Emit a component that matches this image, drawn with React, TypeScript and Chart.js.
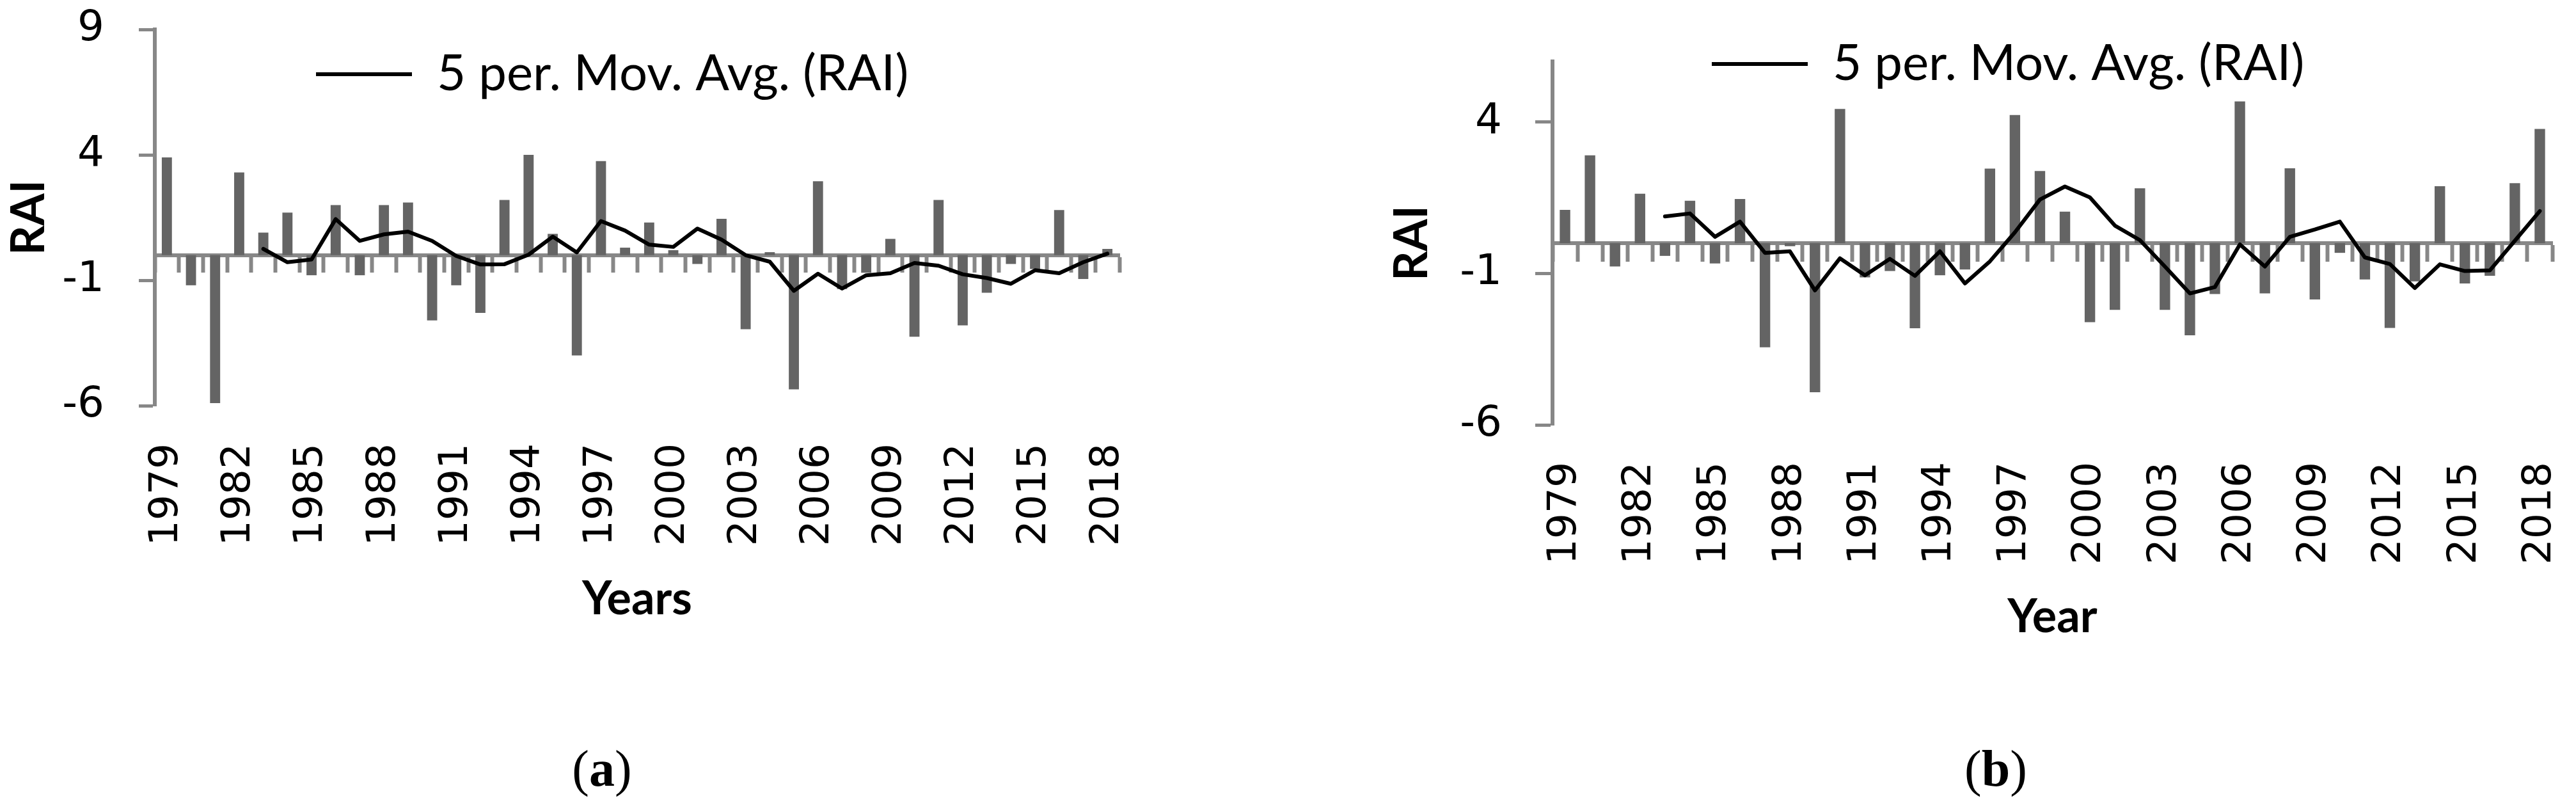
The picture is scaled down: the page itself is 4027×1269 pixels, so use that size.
import React, { useEffect, useRef } from 'react';
import { Chart, registerables } from 'chart.js';

Chart.register(...registerables);

// ---------- data ----------
const years = [
  '1979', '1980', '1981', '1982', '1983', '1984', '1985', '1986', '1987', '1988',
  '1989', '1990', '1991', '1992', '1993', '1994', '1995', '1996', '1997', '1998',
  '1999', '2000', '2001', '2002', '2003', '2004', '2005', '2006', '2007', '2008',
  '2009', '2010', '2011', '2012', '2013', '2014', '2015', '2016', '2017', '2018',
];
const shownYears = ['1979', '1982', '1985', '1988', '1991', '1994', '1997', '2000', '2003', '2006', '2009', '2012', '2015', '2018'];

const raiA = [
  3.9, -1.2, -5.9, 3.3, 0.9, 1.7, -0.8, 2.0, -0.8, 2.0,
  2.1, -2.6, -1.2, -2.3, 2.2, 4.0, 0.85, -4.0, 3.75, 0.3,
  1.3, 0.2, -0.35, 1.45, -2.95, 0.12, -5.35, 2.95, -1.35, -0.7,
  0.65, -3.25, 2.2, -2.8, -1.5, -0.35, -0.55, 1.8, -0.95, 0.25,
];
const maA = [
  null, null, null, null, 0.25, -0.28, -0.17, 1.44, 0.57, 0.83,
  0.94, 0.57, -0.03, -0.37, -0.36, 0.02, 0.74, 0.11, 1.36, 0.98,
  0.42, 0.33, 1.06, 0.62, 0.0, -0.26, -1.42, -0.74, -1.33, -0.8,
  -0.72, -0.31, -0.42, -0.76, -0.91, -1.14, -0.6, -0.72, -0.28, 0.06,
];
const raiB = [
  1.1, 2.9, -0.77, 1.63, -0.42, 1.4, -0.67, 1.46, -3.44, -0.1,
  -4.92, 4.43, -1.13, -0.92, -2.81, -1.06, -0.87, 2.46, 4.23, 2.38,
  1.04, -2.61, -2.2, 1.81, -2.2, -3.04, -1.68, 4.68, -1.66, 2.47,
  -1.86, -0.32, -1.2, -2.8, -1.26, 1.88, -1.33, -1.08, 1.98, 3.77,
];
const maB = [
  null, null, null, null, 0.88, 0.98, 0.21, 0.71, -0.32, -0.27,
  -1.56, -0.5, -1.06, -0.52, -1.08, -0.27, -1.33, -0.6, 0.36, 1.44,
  1.87, 1.51, 0.58, 0.1, -0.77, -1.66, -1.45, -0.04, -0.77, 0.21,
  0.45, 0.71, -0.47, -0.69, -1.48, -0.7, -0.92, -0.9, 0.08, 1.06,
];
const yTicksA = [-6, -1, 4, 9];
const yTicksB = [-6, -1, 4];
const legendText = '5 per. Mov. Avg. (RAI)';

// ---------- styles ----------
const BAR = '#646464';
const AXIS = '#878787';
const NARROW = "Lato, 'Liberation Sans', sans-serif";
const TICKFONT = { family: "'DejaVu Sans', sans-serif", size: 66 };
const XTICKFONT = { family: "'DejaVu Sans', sans-serif", size: 63 };
const LEGEND_SIZE = 78;
const TITLE_SIZE = 72;

type PanelProps = {
  left: number;
  width: number;
  height: number;
  padding: { top: number; right: number; bottom: number; left: number };
  rai: number[];
  ma: (number | null)[];
  yMin: number;
  yMax: number;
  yTicks: number[];
  yWidth: number;
  yTitlePadTop: number;
  yTickPad: number;
  yTickLen: number;
  xHeight: number;
  xTickPad: number;
  xTickLen: number;
  xTitle: string;
  legendX: number;
  legendY: number;
};

function legendAt(x: number, yCenter: number) {
  return {
    id: 'legendAt',
    afterLayout(chart: any) {
      const lg = chart.legend;
      if (!lg) return;
      const w = lg.width;
      const h = lg.height;
      lg.left = x;
      lg.right = x + w;
      lg.top = yCenter - LEGEND_SIZE / 2;
      lg.bottom = lg.top + h;
    },
  };
}

function Panel(p: PanelProps) {
  const ref = useRef<HTMLCanvasElement | null>(null);
  useEffect(() => {
    if (!ref.current) return;
    const chart = new Chart(ref.current, {
      type: 'bar',
      data: {
        labels: years,
        datasets: [
          {
            type: 'bar',
            label: 'RAI',
            data: p.rai,
            backgroundColor: BAR,
            borderWidth: 0,
            barPercentage: 0.42,
            categoryPercentage: 1,
            xAxisID: 'x',
            yAxisID: 'y',
            order: 1,
          } as any,
          {
            type: 'line',
            label: legendText,
            data: p.ma,
            borderColor: '#000000',
            backgroundColor: '#000000',
            borderWidth: 6,
            pointRadius: 0,
            tension: 0,
            fill: false,
            borderCapStyle: 'round',
            borderJoinStyle: 'round',
            spanGaps: false,
            xAxisID: 'x',
            yAxisID: 'y',
            order: 0,
          } as any,
        ],
      },
      options: {
        responsive: false,
        animation: false,
        devicePixelRatio: 1,
        events: [],
        layout: { padding: p.padding },
        plugins: {
          tooltip: { enabled: false },
          title: { display: false },
          legend: {
            display: true,
            position: 'chartArea',
            align: 'start',
            labels: {
              usePointStyle: true,
              pointStyle: 'line',
              pointStyleWidth: 150,
              padding: 0,
              color: '#000',
              font: { family: NARROW, size: LEGEND_SIZE },
              filter: (item: any) => item.datasetIndex === 1,
            },
          },
        },
        scales: {
          x: {
            type: 'category',
            position: 'bottom',
            offset: true,
            grid: { display: false, drawTicks: false, offset: true },
            border: { display: false },
            ticks: {
              autoSkip: false,
              maxRotation: 90,
              minRotation: 90,
              padding: p.xTickPad,
              color: '#000',
              font: XTICKFONT,
              callback: (_v: any, i: number) => (shownYears.includes(years[i]) ? years[i] : ''),
            },
            title: {
              display: true,
              text: p.xTitle,
              color: '#000',
              font: { family: NARROW, size: TITLE_SIZE, weight: 'bold', lineHeight: 1 },
              padding: { top: 0, bottom: 0 },
            },
            afterFit: (s: any) => {
              s.height = p.xHeight;
              s.paddingLeft = 0;
              s.paddingRight = 0;
            },
          },
          x2: {
            type: 'category',
            position: { y: 0 },
            offset: true,
            grid: {
              display: true,
              offset: true,
              drawOnChartArea: false,
              drawTicks: true,
              tickLength: p.xTickLen,
              tickWidth: 6,
              tickColor: AXIS,
              color: AXIS,
            },
            border: { display: true, color: AXIS, width: 6 },
            ticks: { display: false },
            afterFit: (s: any) => {
              s.paddingLeft = 0;
              s.paddingRight = 0;
            },
          },
          y: {
            type: 'linear',
            position: 'left',
            min: p.yMin,
            max: p.yMax,
            afterBuildTicks: (s: any) => {
              s.ticks = p.yTicks.map((v) => ({ value: v }));
            },
            grid: {
              display: true,
              drawOnChartArea: false,
              drawTicks: true,
              tickLength: p.yTickLen,
              tickWidth: 5,
              tickColor: AXIS,
              color: AXIS,
            },
            border: { display: true, color: AXIS, width: 6 },
            ticks: { padding: p.yTickPad, color: '#000', font: TICKFONT },
            title: {
              display: true,
              text: 'RAI',
              color: '#000',
              font: { family: NARROW, size: TITLE_SIZE, weight: 'bold', lineHeight: 1 },
              padding: { top: p.yTitlePadTop, bottom: 0 },
            },
            afterFit: (s: any) => {
              s.width = p.yWidth;
              s.paddingTop = 0;
              s.paddingBottom = 0;
            },
          },
        },
      } as any,
      plugins: [legendAt(p.legendX, p.legendY)],
    });
    return () => chart.destroy();
  }, []);
  return (
    <canvas
      ref={ref}
      width={p.width}
      height={p.height}
      style={{ position: 'absolute', left: p.left, top: 0, width: p.width, height: p.height }}
    />
  );
}

const captionStyle = (cx: number): React.CSSProperties => ({
  position: 'absolute',
  left: cx,
  top: 1201,
  transform: 'translate(-50%, -50%)',
  fontFamily: "'Liberation Serif', 'DejaVu Serif', serif",
  fontSize: 80,
  color: '#000',
  whiteSpace: 'nowrap',
  lineHeight: 1,
});

export default function App() {
  return (
    <div
      style={{
        position: 'fixed',
        left: 0,
        top: 0,
        width: 4027,
        height: 1269,
        background: '#ffffff',
        overflow: 'hidden',
      }}
    >
      <Panel
        left={0}
        width={1800}
        height={1000}
        padding={{ top: 46, right: 50, bottom: 27, left: 0 }}
        rai={raiA}
        ma={maA}
        yMin={-6}
        yMax={9}
        yTicks={yTicksA}
        yWidth={242}
        yTitlePadTop={10}
        yTickPad={54}
        yTickLen={25}
        xHeight={339}
        xTickPad={59}
        xTickLen={24}
        xTitle="Years"
        legendX={494}
        legendY={116}
      />
      <Panel
        left={2100}
        width={1927}
        height={1010}
        padding={{ top: 96, right: 37, bottom: 9, left: 0 }}
        rai={raiB}
        ma={maB}
        yMin={-6}
        yMax={6}
        yTicks={yTicksB}
        yWidth={327}
        yTitlePadTop={72}
        yTickPad={52}
        yTickLen={27}
        xHeight={337}
        xTickPad={58}
        xTickLen={26}
        xTitle="Year"
        legendX={576}
        legendY={100}
      />
      <div style={captionStyle(941)}>
        (<b>a</b>)
      </div>
      <div style={captionStyle(3120)}>
        (<b>b</b>)
      </div>
    </div>
  );
}
